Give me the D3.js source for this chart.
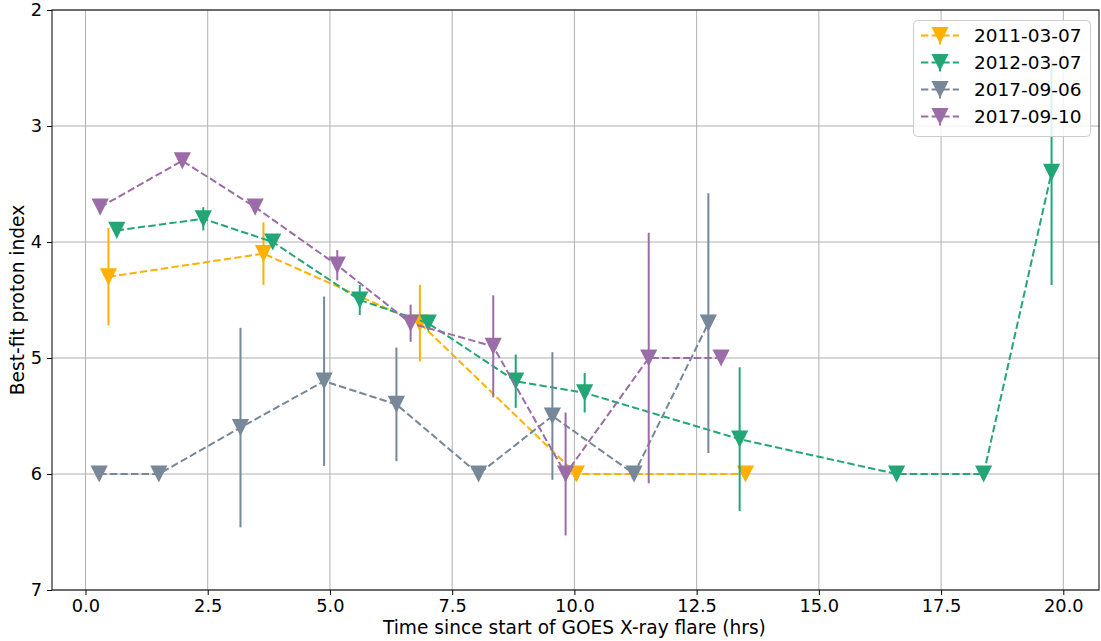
<!DOCTYPE html>
<html>
<head>
<meta charset="utf-8">
<script src="https://cdn.jsdelivr.net/npm/d3@7"></script>
<style>
  body { margin: 0; background: #fff; }
  text { font-family: "DejaVu Sans", sans-serif; fill: #000; }
</style>
</head>
<body>
<div id="chart"></div>
<script>
// series labels and colours
var seriesNames = ["2011-03-07", "2012-03-07", "2017-09-06", "2017-09-10"];
var seriesColors = ["#ffb000", "#22a676", "#778899", "#9b6ca7"];

// time since flare start (hrs)
var times2011 = [0.47, 3.64, 6.84, 10.04, 13.50];
var times2012 = [0.64, 2.41, 3.83, 5.61, 7.01, 8.80, 10.21, 13.38, 16.59, 18.37, 19.76];
var times2017a = [0.28, 1.50, 3.17, 4.88, 6.36, 8.04, 9.55, 11.22, 12.74];
var times2017b = [0.30, 1.98, 3.47, 5.15, 6.65, 8.34, 9.82, 11.52, 13.00];

// best-fit proton index
var index2011 = [4.3, 4.1, 4.7, 6.0, 6.0];
var index2012 = [3.9, 3.8, 4.0, 4.5, 4.7, 5.2, 5.3, 5.7, 6.0, 6.0, 3.4];
var index2017a = [6.0, 6.0, 5.6, 5.2, 5.4, 6.0, 5.5, 6.0, 4.7];
var index2017b = [3.7, 3.3, 3.7, 4.2, 4.7, 4.9, 6.0, 5.0, 5.0];

// error on the index (0 = no bar)
var err2011 = [0.42, 0.27, 0.33, 0, 0];
var err2012 = [0, 0.1, 0, 0.13, 0, 0.23, 0.17, 0.62, 0, 0, 0.97];
var err2017a = [0, 0, 0.86, 0.73, 0.49, 0, 0.55, 0, 1.12];
var err2017b = [0, 0, 0, 0.13, 0.16, 0.44, 0.53, 1.08, 0];

var xTicks = [0, 2.5, 5, 7.5, 10, 12.5, 15, 17.5, 20];
var yTicks = [2, 3, 4, 5, 6, 7];

var allTimes = [times2011, times2012, times2017a, times2017b];
var allIndex = [index2011, index2012, index2017a, index2017b];
var allErr = [err2011, err2012, err2017a, err2017b];

var series = seriesNames.map(function (name, i) {
    return {
        name: name,
        color: seriesColors[i],
        points: allTimes[i].map(function (t, j) {
            return { t: t, v: allIndex[i][j], e: allErr[i][j] };
        })
    };
});

var W = 1101, H = 641;
var margin = { top: 10, right: 2, bottom: 51, left: 52 },
    width = W - margin.left - margin.right,
    height = H - margin.top - margin.bottom;

var svg = d3.select("#chart").append("svg")
    .attr("width", W)
    .attr("height", H);

var g = svg.append("g")
    .attr("transform", "translate(" + margin.left + "," + margin.top + ")");

var x = d3.scaleLinear().domain([-0.685, 20.73]).range([0, width]);
var y = d3.scaleLinear().domain([2, 7]).range([0, height]);

// grid
g.append("g").selectAll("line").data(xTicks).enter().append("line")
    .attr("x1", function (d) { return x(d); }).attr("x2", function (d) { return x(d); })
    .attr("y1", 0).attr("y2", height)
    .attr("stroke", "#b0b0b0").attr("stroke-width", 1);
g.append("g").selectAll("line").data(yTicks).enter().append("line")
    .attr("y1", function (d) { return y(d); }).attr("y2", function (d) { return y(d); })
    .attr("x1", 0).attr("x2", width)
    .attr("stroke", "#b0b0b0").attr("stroke-width", 1);

// axes
var xAxis = d3.axisBottom(x).tickValues(xTicks).tickFormat(d3.format(".1f")).tickSize(5).tickPadding(4);
var yAxis = d3.axisLeft(y).tickValues(yTicks).tickFormat(d3.format("d")).tickSize(5).tickPadding(5);

var gx = g.append("g").attr("transform", "translate(0," + height + ")").call(xAxis);
var gy = g.append("g").call(yAxis);
[gx, gy].forEach(function (a) {
    a.select(".domain").remove();
    a.selectAll("text").style("font-size", "17.8px").style("font-family", "DejaVu Sans");
    a.selectAll("line").attr("stroke", "#000");
});

// traces
var line = d3.line()
    .x(function (d) { return x(d.t); })
    .y(function (d) { return y(d.v); });

var tri = "M-8.6,-8.6L8.6,-8.6L0,8.6Z";

series.forEach(function (s) {
    var sg = g.append("g");
    sg.append("path")
        .datum(s.points)
        .attr("d", line)
        .attr("fill", "none")
        .attr("stroke", s.color)
        .attr("stroke-width", 2)
        .attr("stroke-dasharray", "7.4,3.2");

    sg.selectAll(".err")
        .data(s.points.filter(function (d) { return d.e > 0; }))
        .enter().append("line")
        .attr("x1", function (d) { return x(d.t); })
        .attr("x2", function (d) { return x(d.t); })
        .attr("y1", function (d) { return y(d.v - d.e); })
        .attr("y2", function (d) { return y(d.v + d.e); })
        .attr("stroke", s.color)
        .attr("stroke-width", 2);

    sg.selectAll(".mark")
        .data(s.points)
        .enter().append("path")
        .attr("d", tri)
        .attr("transform", function (d) { return "translate(" + x(d.t) + "," + y(d.v) + ")"; })
        .attr("fill", s.color);
});

// frame
g.append("rect")
    .attr("width", width).attr("height", height)
    .attr("fill", "none").attr("stroke", "#000").attr("stroke-width", 1);

// legend
var lg = svg.append("g");
lg.append("rect")
    .attr("x", 913.5).attr("y", 20.5).attr("width", 177).attr("height", 116)
    .attr("rx", 4)
    .attr("fill", "#fff").attr("fill-opacity", 0.85)
    .attr("stroke", "#cccccc").attr("stroke-width", 1);

series.forEach(function (s, i) {
    var ly = 35.5 + i * 27;
    var eg = lg.append("g").attr("transform", "translate(0," + ly + ")");
    eg.append("line")
        .attr("x1", 921).attr("x2", 959).attr("y1", 0).attr("y2", 0)
        .attr("stroke", s.color).attr("stroke-width", 2)
        .attr("stroke-dasharray", "7.4,3.2");
    eg.append("line")
        .attr("x1", 940).attr("x2", 940).attr("y1", -8).attr("y2", 9)
        .attr("stroke", s.color).attr("stroke-width", 2);
    eg.append("path")
        .attr("d", tri)
        .attr("transform", "translate(940,0)")
        .attr("fill", s.color);
    eg.append("text")
        .attr("x", 974).attr("y", 0).attr("dy", "0.35em")
        .style("font-size", "18.5px")
        .text(s.name);
});

// axis titles
svg.append("text")
    .attr("x", margin.left + x(10)).attr("y", 634)
    .attr("text-anchor", "middle")
    .style("font-size", "18.6px")
    .text("Time since start of GOES X-ray flare (hrs)");

svg.append("text")
    .attr("transform", "translate(24," + (margin.top + height / 2) + ") rotate(-90)")
    .attr("text-anchor", "middle")
    .style("font-size", "18.6px")
    .text("Best-fit proton index");
</script>
</body>
</html>
